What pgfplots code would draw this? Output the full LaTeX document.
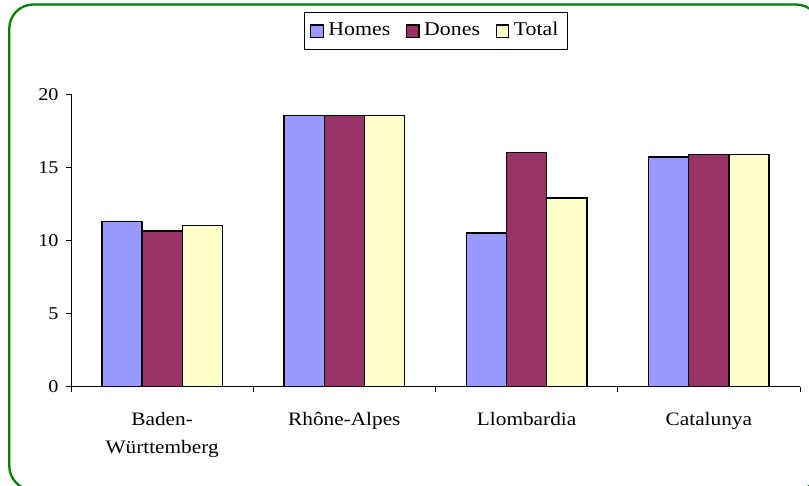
\documentclass[border=0pt]{standalone}
\usepackage{fontspec}
\setmainfont{Liberation Serif}[FakeStretch=1.12]
\usepackage{pgfplots}
\pgfplotsset{compat=1.18}

\definecolor{homes}{RGB}{153,153,255}
\definecolor{dones}{RGB}{153,51,102}
\definecolor{total}{RGB}{255,255,204}
\definecolor{frame}{RGB}{0,128,0}

\begin{document}
\begin{tikzpicture}
\useasboundingbox (0,0) rectangle (809pt,486pt);
\draw[frame, line width=2.3pt, rounded corners=24pt] (9.3pt,-4pt) rectangle (820pt,481.5pt);
\begin{axis}[
    at={(71pt,99.3pt)}, anchor=south west,
    scale only axis, width=729pt, height=292.4pt,
    xmin=-0.5, xmax=3.5, ymin=0, ymax=20,
    axis lines=left,
    axis line style={-, black, line width=0.8pt},
    ybar, bar width=0.2206,
    xtick={-0.5,0.5,1.5,2.5,3.5},
    x tick label as interval,
    xticklabels={Baden-\\[6pt]Württemberg, Rhône-Alpes, Llombardia, Catalunya},
    xticklabel style={align=center, yshift=-17pt, font=\fontsize{19}{22}\selectfont},
    ytick={0,5,10,15,20},
    yticklabel style={xshift=-4pt, font=\fontsize{18}{22}\selectfont},
    tick align=outside, major tick length=5pt,
    tick style={black, line width=0.8pt},
    /pgf/number format/assume math mode=true,
    legend columns=3,
    legend style={at={(0.5,1.217)}, anchor=center, draw=black, line width=0.8pt,
        font=\fontsize{19.5}{22}\selectfont, inner xsep=6pt, inner ysep=8pt,
        nodes={inner xsep=2.5pt, text height=13pt, text depth=4pt},
        /tikz/every odd column/.append style={column sep=2pt},
        /tikz/every even column/.append style={column sep=13pt}},
    legend image code/.code={\draw[#1, draw=black, line width=1.4pt] (0pt,-6.5pt) rectangle (12.5pt,6pt);},
    every axis plot/.append style={draw=black, line width=1.4pt},
]
\addplot[fill=homes, bar shift=-0.2206] coordinates {(0,11.31) (1,18.54) (2,10.51) (3,15.71)};
\addplot[fill=dones, bar shift=0] coordinates {(0,10.65) (1,18.54) (2,16.00) (3,15.87)};
\addplot[fill=total, bar shift=0.2206] coordinates {(0,11.04) (1,18.54) (2,12.90) (3,15.87)};
\legend{Homes, Dones, Total}
\end{axis}
\end{tikzpicture}
\end{document}
